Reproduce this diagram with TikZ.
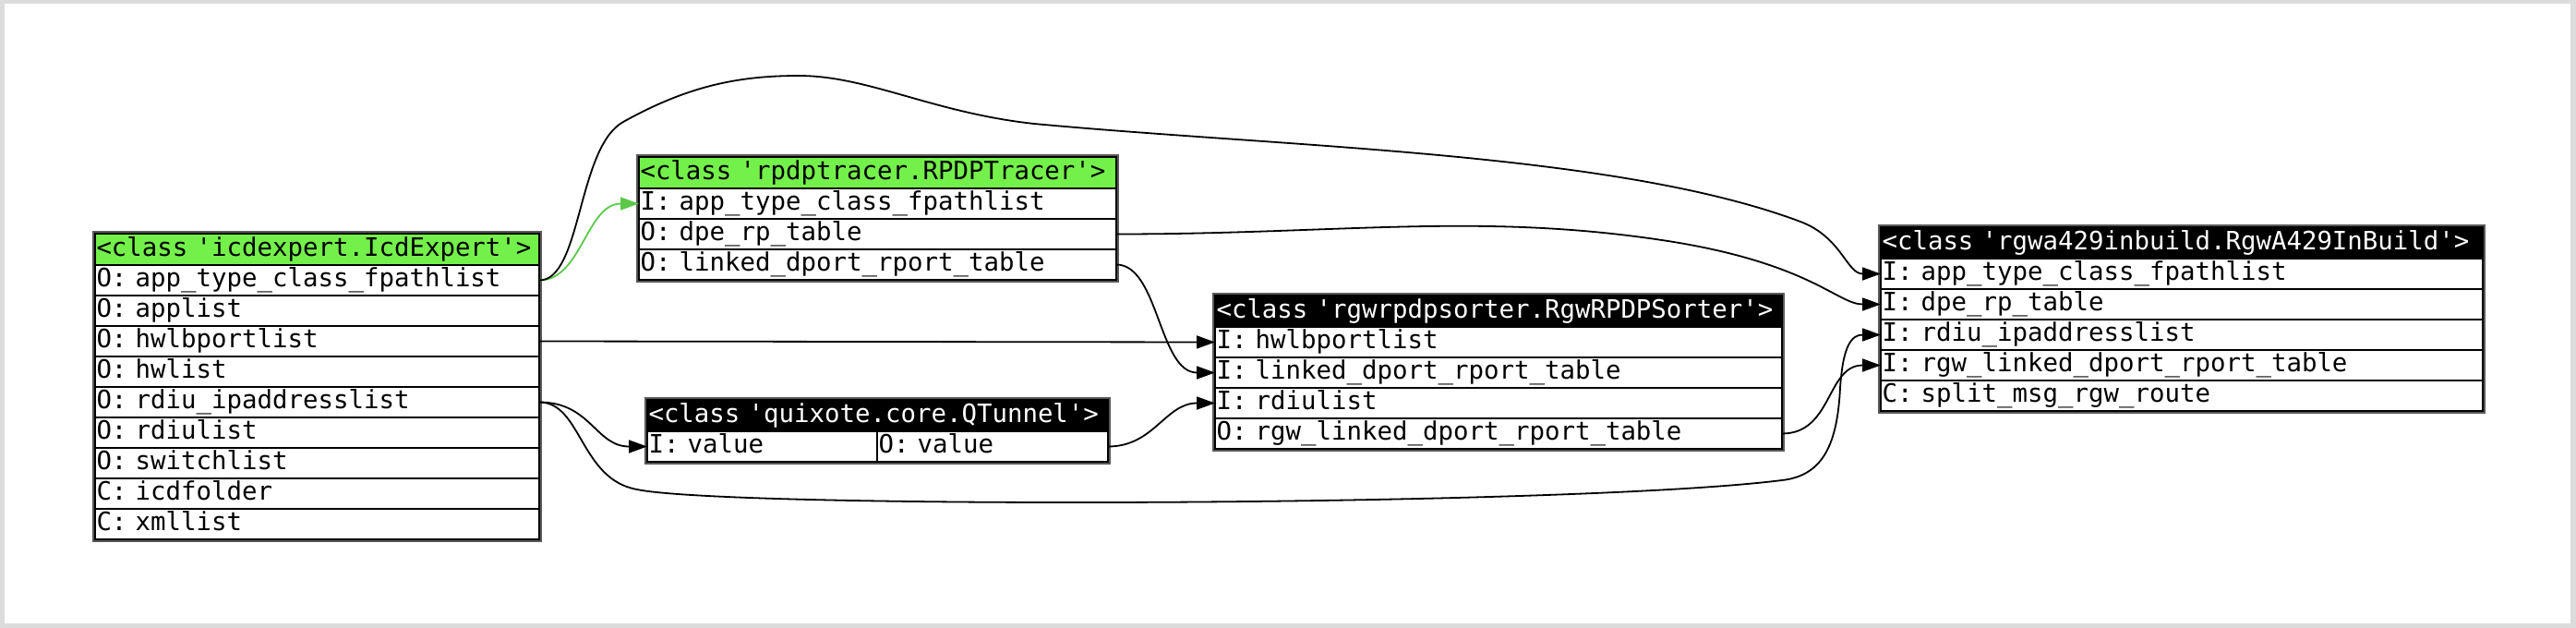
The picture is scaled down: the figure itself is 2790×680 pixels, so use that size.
\documentclass[tikz,border=0pt]{standalone}
\usepackage{fontspec}
\setmonofont{DejaVu Sans Mono}
\usetikzlibrary{arrows.meta}
\definecolor{hdrgreen}{HTML}{74F04B}
\definecolor{edgegreen}{HTML}{5CC84A}
\definecolor{framegray}{HTML}{DCDCDC}
\newcommand\cellfont{\ttfamily\fontsize{27.4}{30}\selectfont}
\tikzset{
  cellbox/.style={draw=black, line width=1.8pt, anchor=north west, outer sep=0pt,
    inner xsep=1.5pt, inner ysep=0pt, minimum height=33pt,
    text height=20.8pt, text depth=6.6pt, font=\cellfont, align=left},
  hdrg/.style={cellbox, fill=hdrgreen, minimum height=34pt},
  hdrb/.style={cellbox, fill=black, text=white, minimum height=34pt},
  tableframe/.style={draw=black!65, line width=2pt},
  conn/.style={draw=black, line width=1.8pt, -{Triangle[length=20pt,width=14pt]}},
  gconn/.style={conn, draw=edgegreen},
}
\begin{document}
\begin{tikzpicture}[x=1pt,y=-1pt]
\useasboundingbox (0,0) rectangle (2790,680);
\fill[framegray] (0,0) rectangle (2790,680);
\fill[white] (5,4) rectangle (2784,675);

% ---- icdexpert.IcdExpert
\draw[tableframe] (101,251) rectangle (586,586);
\node[hdrg, text width=478pt] (ie0) at (103,253) {<class 'icdexpert.IcdExpert'>};
\node[cellbox, text width=478pt] (ie1) at (103,287) {O: app\_type\_class\_fpathlist};
\node[cellbox, text width=478pt] (ie2) at (103,320) {O: applist};
\node[cellbox, text width=478pt] (ie3) at (103,353) {O: hwlbportlist};
\node[cellbox, text width=478pt] (ie4) at (103,386) {O: hwlist};
\node[cellbox, text width=478pt] (ie5) at (103,419) {O: rdiu\_ipaddresslist};
\node[cellbox, text width=478pt] (ie6) at (103,452) {O: rdiulist};
\node[cellbox, text width=478pt] (ie7) at (103,485) {O: switchlist};
\node[cellbox, text width=478pt] (ie8) at (103,518) {C: icdfolder};
\node[cellbox, text width=478pt] (ie9) at (103,551) {C: xmllist};

% ---- rpdptracer.RPDPTracer
\draw[tableframe] (690,168) rectangle (1211,305);
\node[hdrg, text width=514pt] (rt0) at (692,170) {<class 'rpdptracer.RPDPTracer'>};
\node[cellbox, text width=514pt] (rt1) at (692,204) {I: app\_type\_class\_fpathlist};
\node[cellbox, text width=514pt] (rt2) at (692,237) {O: dpe\_rp\_table};
\node[cellbox, text width=514pt] (rt3) at (692,270) {O: linked\_dport\_rport\_table};

% ---- quixote.core.QTunnel
\draw[tableframe] (699,431) rectangle (1202,502);
\node[hdrb, text width=496pt] (qt0) at (701,433) {<class 'quixote.core.QTunnel'>};
\node[cellbox, text width=246pt] (qtin) at (701,467) {I: value};
\node[cellbox, text width=247pt] (qtout) at (950,467) {O: value};

% ---- rgwrpdpsorter.RgwRPDPSorter
\draw[tableframe] (1314,318) rectangle (1932,488);
\node[hdrb, text width=611pt] (so0) at (1316,320) {<class 'rgwrpdpsorter.RgwRPDPSorter'>};
\node[cellbox, text width=611pt] (so1) at (1316,354) {I: hwlbportlist};
\node[cellbox, text width=611pt] (so2) at (1316,387) {I: linked\_dport\_rport\_table};
\node[cellbox, text width=611pt] (so3) at (1316,420) {I: rdiulist};
\node[cellbox, text width=611pt] (so4) at (1316,453) {O: rgw\_linked\_dport\_rport\_table};

% ---- rgwa429inbuild.RgwA429InBuild
\draw[tableframe] (2035,244) rectangle (2691,447);
\node[hdrb, text width=649pt] (rg0) at (2037,246) {<class 'rgwa429inbuild.RgwA429InBuild'>};
\node[cellbox, text width=649pt] (rg1) at (2037,280) {I: app\_type\_class\_fpathlist};
\node[cellbox, text width=649pt] (rg2) at (2037,313) {I: dpe\_rp\_table};
\node[cellbox, text width=649pt] (rg3) at (2037,346) {I: rdiu\_ipaddresslist};
\node[cellbox, text width=649pt] (rg4) at (2037,379) {I: rgw\_linked\_dport\_rport\_table};
\node[cellbox, text width=649pt] (rg5) at (2037,412) {C: split\_msg\_rgw\_route};

% ---- connectors
\draw[gconn] (ie1.east) .. controls (630,303.5) and (635,220.5) .. (rt1.west);
\draw[conn] (ie1.east) .. controls (630,303.5) and (625,160) .. (675,132)
  .. controls (745,93) and (800,82) .. (865,82)
  .. controls (940,82) and (1010,122) .. (1120,134)
  .. controls (1400,160) and (1750,165) .. (1950,240)
  .. controls (1995,257) and (2000,296.5) .. (rg1.west);
\draw[conn] (ie3.east) -- (so1.west);
\draw[conn] (ie5.east) .. controls (640,435.5) and (645,483.5) .. (qtin.west);
\draw[conn] (ie5.east) .. controls (630,435.5) and (628,519) .. (690,530)
  .. controls (790,551) and (1700,549) .. (1930,520)
  .. controls (1975,515) and (1990,480) .. (1993,420)
  .. controls (1996,375) and (2005,362.5) .. (rg3.west);
\draw[conn] (rt2.east) .. controls (1450,253.5) and (1600,230) .. (1800,260)
  .. controls (1960,284) and (1990,329.5) .. (rg2.west);
\draw[conn] (rt3.east) .. controls (1255,286.5) and (1255,403.5) .. (so2.west);
\draw[conn] (qtout.east) .. controls (1250,483.5) and (1262,436.5) .. (so3.west);
\draw[conn] (so4.east) .. controls (1985,469.5) and (1978,395.5) .. (rg4.west);
\end{tikzpicture}
\end{document}
